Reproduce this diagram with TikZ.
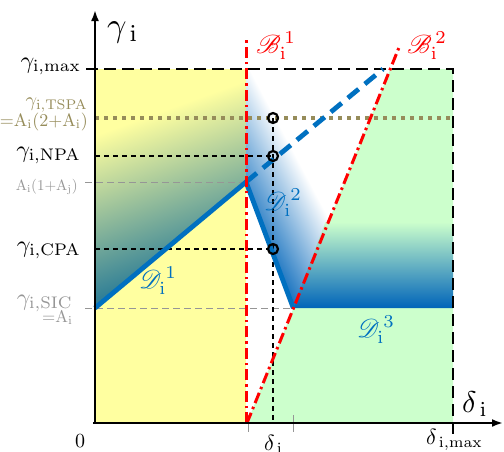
\documentclass[tikz,border=0pt]{standalone}
\usepackage{amsmath}
\usepackage{mathrsfs}
\usetikzlibrary{arrows.meta}
\definecolor{yellowc}{RGB}{255,255,160}
\definecolor{greenc}{RGB}{204,255,204}
\definecolor{blueD}{RGB}{0,112,192}
\definecolor{blueE}{RGB}{0,100,185}
\definecolor{tealc}{RGB}{50,128,150}
\definecolor{olivec}{RGB}{150,140,90}
\definecolor{greyc}{RGB}{150,150,150}
\definecolor{redc}{RGB}{255,0,0}
\newcommand{\sclx}[2]{\scalebox{#1}{#2}}
\tikzset{
  axisline/.style={line width=2.6pt,-{Latex[length=11pt,width=8pt]}},
  bigdash/.style={line width=2.4pt,dash pattern=on 12pt off 6pt},
  thindash/.style={line width=1.2pt,dash pattern=on 5pt off 4pt},
  greydash/.style={greyc,line width=0.9pt,dash pattern=on 7pt off 4pt},
  olivedot/.style={olivec,line width=4pt,dash pattern=on 4pt off 5pt},
  bluesolid/.style={blueD,line width=4.8pt,line join=round},
  bluedash/.style={blueD,line width=4.8pt,dash pattern=on 14pt off 8pt},
  reddashdot/.style={redc,line width=3pt,dash pattern=on 11pt off 4pt on 2.5pt off 4pt},
  ring/.style={black,line width=2.2pt},
  lab/.style={inner sep=0pt},
}
\begin{document}
\begin{tikzpicture}[x=1pt,y=-1pt]
\useasboundingbox (0,0) rectangle (504,451);
% key points
\coordinate (O) at (95,423);
\coordinate (Ytip) at (95,10);
\coordinate (Xstart) at (93,423);
\coordinate (Xtip) at (503,423);
\coordinate (P1) at (95,308);
\coordinate (P2) at (246,182);
\coordinate (P3) at (293.3,308);
\coordinate (P4) at (383,69);
\coordinate (B1a) at (246,423);
\coordinate (B1b) at (246,40);
\coordinate (B2a) at (247,423);
\coordinate (B2b) at (400,45);
\coordinate (B2top) at (390.3,69);
\coordinate (TL) at (86,69);
\coordinate (TR) at (453,69);
\coordinate (BR) at (453,434);
% fills
\fill[yellowc] (95,69) rectangle (246,423);
\fill[greenc] (B2a) -- (B2top) -- (453,69) -- (453,423) -- cycle;
% D1 upper region: teal (lower left) to yellow (upper left direction)
\begin{scope}
  \clip (95,69) -- (246,69) -- (P2) -- (P1) -- cycle;
  \begin{scope}[transform canvas={rotate around={20:(170,190)}}]
    \shade[top color=yellowc, bottom color=tealc] (-130,113) rectangle (470,267);
    \fill[tealc] (-130,266.5) rectangle (470,600);
  \end{scope}
\end{scope}
% D2 region: blue (lower left) to white (upper right)
\begin{scope}
  \clip (246,69) -- (P2) -- (P3) -- (B2top) -- cycle;
  \begin{scope}[transform canvas={rotate around={-62:(293.1,236.4)}}]
    \shade[top color=white, bottom color=blueE] (-7,196.4) rectangle (593,276.4);
    \fill[blueE] (-7,276) rectangle (593,600);
  \end{scope}
\end{scope}
% D3 region: green to blue
\begin{scope}
  \clip (341,180) -- (453,180) -- (453,308) -- (P3) -- cycle;
  \shade[top color=greenc, bottom color=blueE] (280,222) rectangle (460,308);
\end{scope}
% guide lines
\coordinate (Ga) at (85,182);
\coordinate (Gb) at (85,308);
\draw[greydash] (Ga) -- (P2);
\draw[greydash] (Gb) -- (P3);
\coordinate (Ct) at (273,118);
\coordinate (Cn) at (273,156);
\coordinate (Cc) at (273,249);
\coordinate (Cb) at (273,423);
\coordinate (Ln) at (95,156);
\coordinate (Lc) at (95,249);
\coordinate (Lt) at (95,118);
\coordinate (Rt) at (453,118);
\draw[thindash] (Ln) -- (Cn);
\draw[thindash] (Lc) -- (Cc);
\draw[thindash] (Ct) -- (Cb);
\draw[olivedot] (Lt) -- (Rt);
\draw[bigdash] (TL) -- (TR) -- (BR);
% ticks
\coordinate (T1a) at (248,415); \coordinate (T1b) at (248,432);
\coordinate (T2a) at (293,415); \coordinate (T2b) at (293,432);
\draw[greyc,line width=0.8pt] (T1a) -- (T1b);
\draw[greyc,line width=0.8pt] (T2a) -- (T2b);
% boundaries
\draw[bluedash] (P2) -- (P4);
\draw[bluesolid] (P1) -- (P2) -- (P3);
\draw[reddashdot] (B1a) -- (B1b);
\draw[reddashdot] (B2a) -- (B2b);
% axes
\draw[axisline] (O) -- (Ytip);
\draw[axisline] (Xstart) -- (Xtip);
% rings
\draw[ring] (Ct) circle (5);
\draw[ring] (Cn) circle (5);
\draw[ring] (Cc) circle (5);
% labels
\node[lab,anchor=base west] (ly) at (107,36) {\sclx{3.4}{$\gamma_{\,\mathrm{i}}$}};
\node[lab,anchor=base west] (lx) at (462,412) {\sclx{3.0}{$\delta_{\,\mathrm{i}}$}};
\node[lab,anchor=base east] (lmax) at (81,68) {\sclx{2.4}{$\gamma_{\mathrm{i,max}}$}};
\node[lab,anchor=base east,text=olivec] (ltspa) at (88,106) {\sclx{2.0}{$\gamma_{\mathrm{i,TSPA}}$}};
\node[lab,anchor=base east,text=olivec] (ltspb) at (88,126) {\sclx{1.8}{${=}\mathrm{A_i(2{+}A_i)}$}};
\node[lab,anchor=base east] (lnpa) at (81,157) {\sclx{2.4}{$\gamma_{\mathrm{i,NPA}}$}};
\node[lab,anchor=base east,text=greyc] (laa) at (78,190) {\sclx{1.5}{$\mathrm{A_i(1{+}A_j)}$}};
\node[lab,anchor=base east] (lcpa) at (81,252) {\sclx{2.4}{$\gamma_{\mathrm{i,CPA}}$}};
\node[lab,anchor=base east,text=greyc] (lsic) at (73,305) {\sclx{2.4}{$\gamma_{\mathrm{i,SIC}}$}};
\node[lab,anchor=base east,text=greyc] (lsicb) at (73,322) {\sclx{1.7}{${=}\mathrm{A_i}$}};
\node[lab,anchor=base] (lzero) at (80,447) {\sclx{2.0}{0}};
\node[lab,anchor=base west] (ldi) at (264,450) {\sclx{2.2}{$\delta_{\,\mathrm{i}}$}};
\node[lab,anchor=base west] (ldmax) at (426,444) {\sclx{2.2}{$\delta_{\,\mathrm{i,max}}$}};
\node[lab,anchor=base west,text=redc] (lb1) at (256,53) {\sclx{2.6}{$\mathscr{B}_{\mathrm{i}}^{\,1}$}};
\node[lab,anchor=base west,text=redc] (lb2) at (407,53) {\sclx{2.6}{$\mathscr{B}_{\mathrm{i}}^{\,2}$}};
\node[lab,anchor=base west,text=blueD] (ld1) at (139,288) {\sclx{2.6}{$\mathscr{D}_{\mathrm{i}}^{\,1}$}};
\node[lab,anchor=base west,text=blueD] (ld2) at (264,210) {\sclx{2.6}{$\mathscr{D}_{\mathrm{i}}^{\,2}$}};
\node[lab,anchor=base west,text=blueD] (ld3) at (357,337) {\sclx{2.6}{$\mathscr{D}_{\mathrm{i}}^{\,3}$}};
\end{tikzpicture}
\end{document}
